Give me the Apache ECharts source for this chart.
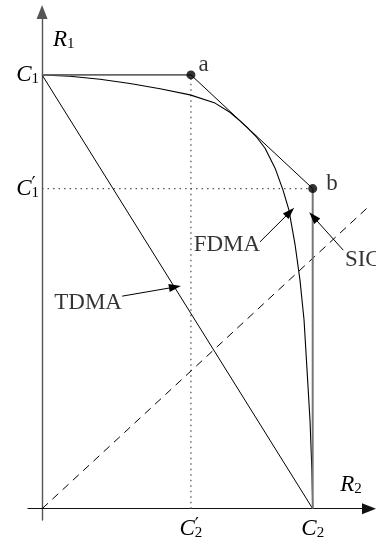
<!DOCTYPE html>
<html>
<head>
<meta charset="utf-8">
<script src="https://cdn.jsdelivr.net/npm/echarts@6/dist/echarts.min.js"></script>
<style>
  html, body { margin: 0; padding: 0; background: #fff; }
  #chart { width: 376px; height: 537px; }
</style>
</head>
<body>
<div id="chart"></div>
<script>
// Two-user rate region: capacities normalised so that C1 = C2 = 1
const C1 = 1.0;
const C2 = 1.0;
const C1p = 0.738;   // C1' : rate of user 1 when user 2 is decoded first
const C2p = 0.550;   // C2' : rate of user 2 when user 1 is decoded first

const xRange = [-0.052, 1.208];
const yRange = [-0.026, 1.145];

// Time sharing between the two single-user corners
const tdmaLine = [[0, C1], [C2, 0]];

// Successive interference cancellation pentagon
const sicTop = [[0, C1], [C2p, C1]];
const sicSlope = [[C2p, C1], [C2, C1p]];
const sicSide = [[C2, C1p], [C2, 0]];

// Frequency-division boundary
const fdmaCurve = [
  [0.000, 1.000], [0.103, 0.997], [0.214, 0.990], [0.325, 0.980],
  [0.436, 0.968], [0.547, 0.954], [0.639, 0.935], [0.694, 0.914],
  [0.731, 0.894], [0.761, 0.877], [0.791, 0.858], [0.824, 0.831],
  [0.861, 0.785], [0.890, 0.735], [0.912, 0.689], [0.935, 0.608],
  [0.953, 0.527], [0.968, 0.435], [0.979, 0.320], [0.990, 0.204],
  [0.997, 0.089], [1.000, 0.000]
];

// Corner points of the pentagon
const cornerNames = ['a', 'b'];
const cornerPoints = [[C2p, C1], [C2, C1p]];

// Dotted guides to the corner rates
const guideH = [[0, C1p], [C2, C1p]];
const guideV = [[C2p, 0], [C2p, C1]];

// Dashed ray from the origin
const rayLine = [[0, 0], [1.27, 0.733]];

// Axis tick values and their labels
const xTicks = [C2p, C2];
const xTickLabels = ['{i|C}{p|\u2032}{s|2}', '{i|C}{s|2}'];
const yTicks = [C1p, C1];
const yTickLabels = ['{i|C}{p|\u2032}{s|1}', '{i|C}{s|1}'];

// Scheme labels with pointer arrows
const annoNames = ['FDMA', 'SIC', 'TDMA'];
const annoText = [[0.683, 0.607], [1.119, 0.573], [0.170, 0.474]];
const annoFrom = [[0.805, 0.615], [1.113, 0.596], [0.296, 0.490]];
const annoTo = [[0.916, 0.684], [1.002, 0.673], [0.491, 0.511]];

const SERIF = 'Liberation Serif';
// Math-style rich text: italic symbol, subscript, and a zero-width prime
// so the prime sits right above the subscript
const mathRich = {
  i: { fontFamily: SERIF, fontStyle: 'italic', fontSize: 23, color: '#000', lineHeight: 24, align: 'left' },
  s: { fontFamily: SERIF, fontSize: 15, color: '#000', lineHeight: 14, verticalAlign: 'bottom', align: 'left' },
  p: { fontFamily: 'DejaVu Serif', fontSize: 18, color: '#000', lineHeight: 15, verticalAlign: 'top', width: 0, align: 'left' }
};

function lineSeries(data, color, width, type) {
  return {
    type: 'line', data: data, symbol: 'none', silent: true, clip: false,
    lineStyle: { color: color, width: width, type: type || 'solid' }
  };
}

const chart = echarts.init(document.getElementById('chart'), null, { renderer: 'canvas' });

chart.setOption({
  animation: false,
  backgroundColor: '#fff',
  grid: { left: 28, right: 7, top: 12, bottom: 17, outerBoundsMode: 'none', containLabel: false },
  xAxis: {
    type: 'value', min: xRange[0], max: xRange[1],
    axisLine: { onZero: true, symbol: ['none', 'triangle'], symbolSize: [11, 14], lineStyle: { color: '#111', width: 1.2 } },
    axisTick: { show: false },
    splitLine: { show: false },
    axisLabel: {
      customValues: xTicks, margin: -3,
      formatter: function (v) { return xTickLabels[xTicks.indexOf(v)] || ''; },
      rich: mathRich
    },
    name: '{i|R}{s|2}', nameLocation: 'end', nameGap: -18,
    nameTextStyle: { rich: mathRich, align: 'center', verticalAlign: 'bottom', padding: [0, 0, 12, 0] }
  },
  yAxis: {
    type: 'value', min: yRange[0], max: yRange[1],
    axisLine: { onZero: true, symbol: ['none', 'triangle'], symbolSize: [11, 14], lineStyle: { color: '#555', width: 1.4 } },
    axisTick: { show: false },
    splitLine: { show: false },
    axisLabel: {
      customValues: yTicks, margin: -11,
      formatter: function (v) { return yTickLabels[yTicks.indexOf(v)] || ''; },
      rich: mathRich
    },
    name: '{i|R}{s|1}', nameLocation: 'end', nameGap: -28,
    nameTextStyle: { rich: mathRich, align: 'left', verticalAlign: 'middle', padding: [0, 0, 0, 11] }
  },
  series: [
    lineSeries(guideH, '#555', 1.3, [1.5, 4]),
    lineSeries(guideV, '#555', 1.3, [1.5, 4]),
    lineSeries(rayLine, '#000', 1, [8, 6]),
    lineSeries(tdmaLine, '#000', 1),
    lineSeries(fdmaCurve, '#000', 1.1),
    lineSeries(sicTop, '#666', 1.6),
    lineSeries(sicSlope, '#000', 1),
    lineSeries(sicSide, '#777', 2),
    {
      type: 'scatter', silent: true, z: 5,
      symbol: 'circle', symbolSize: 9,
      itemStyle: { color: '#000' },
      data: cornerPoints.map(function (p, k) {
        return {
          value: p, name: cornerNames[k],
          label: { offset: k === 0 ? [2, -10] : [8, -5] }
        };
      }),
      label: {
        show: true, position: 'right', distance: 1,
        formatter: '{b}', fontFamily: SERIF, fontSize: 23, color: '#000'
      }
    },
    {
      type: 'scatter', silent: true, z: 6,
      symbolSize: 0,
      data: annoNames.map(function (n, k) {
        return {
          value: annoText[k], name: n,
          label: { align: k === 1 ? 'left' : 'center' }
        };
      }),
      label: {
        show: true, position: 'inside', formatter: '{b}',
        fontFamily: SERIF, fontSize: 23, color: '#000'
      },
      markLine: {
        silent: true, animation: false,
        symbol: ['none', 'triangle'], symbolSize: [8, 12],
        label: { show: false },
        lineStyle: { color: '#000', width: 1, type: 'solid' },
        data: annoNames.map(function (n, k) {
          return [{ coord: annoFrom[k] }, { coord: annoTo[k] }];
        })
      }
    }
  ]
});
</script>
</body>
</html>
